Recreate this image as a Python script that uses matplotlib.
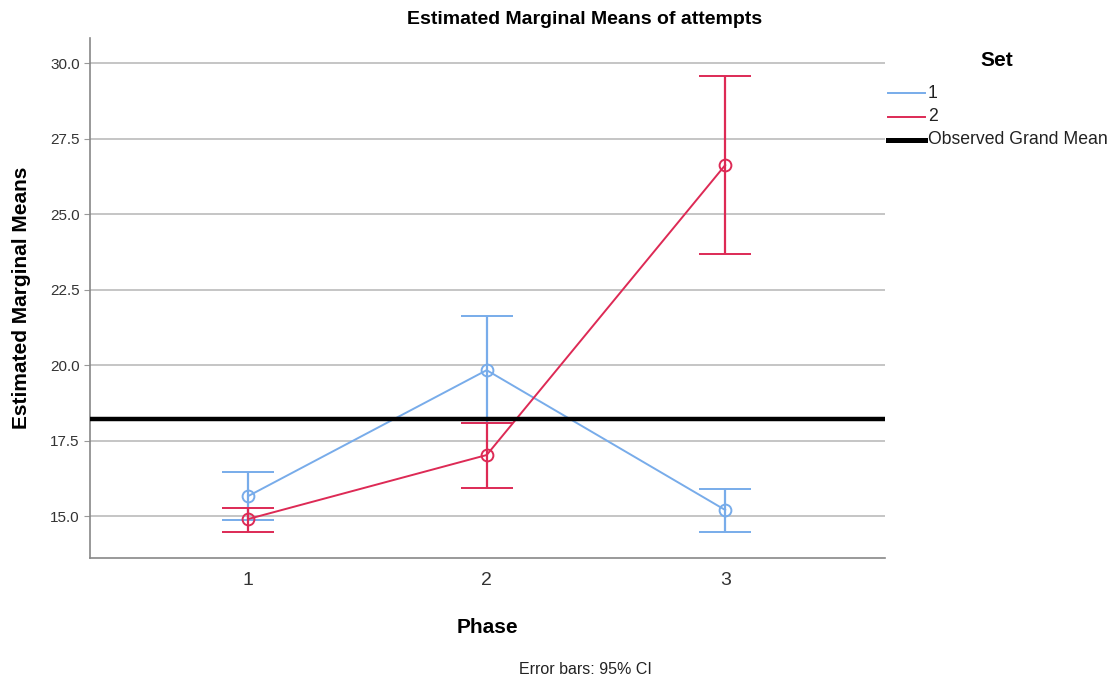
import numpy as np
import matplotlib
matplotlib.use('Agg')
from matplotlib import pyplot as plt
from matplotlib.lines import Line2D

plt.rcParams['font.family'] = ['Liberation Sans', 'DejaVu Sans']

# Estimated marginal means of attempts, with 95% CI
phase = [1, 2, 3]
set1_mean = [15.66, 19.83, 15.20]
set1_low = [14.87, 18.08, 14.47]
set1_high = [16.46, 21.62, 15.89]
set2_mean = [14.90, 17.02, 26.62]
set2_low = [14.47, 15.93, 23.68]
set2_high = [15.26, 18.08, 29.57]
grand_mean = 18.21
yticks = [15.0, 17.5, 20.0, 22.5, 25.0, 27.5, 30.0]
legend_labels = ['1', '2', 'Observed Grand Mean']

blue = '#78acea'
red = '#dd2a55'

W, H = 1112, 681
fig = plt.figure(figsize=(W / 100, H / 100), dpi=100)
ax = fig.add_axes([90 / W, 1 - 558 / H, 795 / W, 520 / H])

ax.axhline(grand_mean, color='black', lw=3.2, zorder=4)

for mean, lo, hi, c in [(set1_mean, set1_low, set1_high, blue),
                        (set2_mean, set2_low, set2_high, red)]:
    mean = np.array(mean)
    err = [mean - np.array(lo), np.array(hi) - mean]
    ax.errorbar(phase, mean, yerr=err, color=c, lw=1.4, elinewidth=1.6,
                capsize=19, capthick=1.8, marker='o', markersize=8.5,
                markerfacecolor='none', markeredgecolor=c, markeredgewidth=1.4,
                zorder=3)

ax.set_xlim(0.337, 3.67)
ax.set_ylim(13.61, 30.83)
ax.set_yticks(yticks)
ax.set_yticklabels([f'{v:.1f}' for v in yticks], fontsize=11, color='#333333')
ax.set_xticks(phase)
ax.set_xticklabels([str(p) for p in phase], fontsize=14, color='#333333')
ax.tick_params(axis='x', length=0, pad=10)
ax.tick_params(axis='y', length=4, color='#999999')
ax.yaxis.grid(True, color='#bbbbbb', lw=1.2)
ax.set_axisbelow(True)
for s in ['top', 'right']:
    ax.spines[s].set_visible(False)
for s in ['left', 'bottom']:
    ax.spines[s].set_color('#888888')
    ax.spines[s].set_linewidth(1.2)

ax.set_xlabel('Phase', fontsize=15, fontweight='bold', labelpad=21)
ax.set_ylabel('Estimated Marginal Means', fontsize=15, fontweight='bold', labelpad=14)

fig.text(585 / W, 1 - 19 / H, 'Estimated Marginal Means of attempts',
         ha='center', va='center', fontsize=14, fontweight='bold')
fig.text(585 / W, 1 - 670 / H, 'Error bars: 95% CI',
         ha='center', va='center', fontsize=11.5, color='#222222')

# legend, placed by hand like the SPSS output
fig.text(997 / W, 1 - 61 / H, 'Set', ha='center', va='center',
         fontsize=15, fontweight='bold')
for i, (lab, c, lw) in enumerate(zip(legend_labels, [blue, red, 'black'], [1.4, 1.4, 3.6])):
    y = 1 - (93 + 23.5 * i) / H
    fig.add_artist(Line2D([888 / W, 925 / W], [y, y], color=c, lw=lw,
                          transform=fig.transFigure))
    fig.text(928 / W, y, lab, ha='left', va='center', fontsize=12.7, color='#222222')

fig.savefig('out.png', dpi=100)
